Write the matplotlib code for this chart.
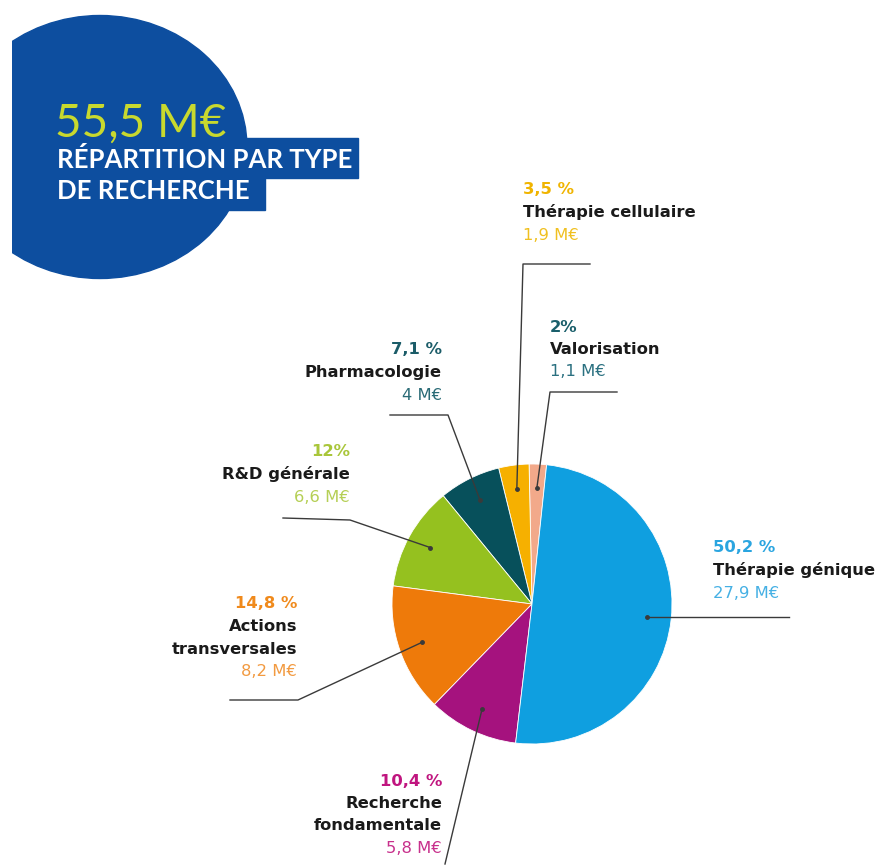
import matplotlib
matplotlib.use("Agg")
import matplotlib.pyplot as plt
from matplotlib.patches import Ellipse, Rectangle
import numpy as np

# data (from the labels)
categories = ["Valorisation", "Thérapie cellulaire", "Pharmacologie", "R&D générale",
              "Actions transversales", "Recherche fondamentale", "Thérapie génique"]
pct_labels = ["2%", "3,5 %", "7,1 %", "12%", "14,8 %", "10,4 %", "50,2 %"]
values = [2.0, 3.5, 7.1, 12.0, 14.8, 10.4, 50.2]
amount_labels = ["1,1 M€", "1,9 M€", "4 M€", "6,6 M€", "8,2 M€", "5,8 M€", "27,9 M€"]
name_lines = [["Valorisation"], ["Thérapie cellulaire"], ["Pharmacologie"], ["R&D générale"],
              ["Actions", "transversales"], ["Recherche", "fondamentale"], ["Thérapie génique"]]
total_label = "55,5 M€"
title_lines = ["RÉPARTITION PAR TYPE", "DE RECHERCHE"]

slice_colors = ["#f2a98a", "#f6b000", "#07505b", "#95c11f", "#ee7a0a", "#a5127e", "#0f9fe0"]
pct_colors = ["#1a5f6b", "#f0b400", "#1b5c68", "#a9c63a", "#f08a1c", "#c0157f", "#2aa5e0"]
amt_colors = ["#2a7080", "#f0c020", "#2a6b76", "#b5cf55", "#f29a40", "#c8308c", "#45b0e4"]

W, H = 882, 865
def Y(y):
    return H - y

# label layout: (x, align, first line y, leader points from label side; None y = dot height)
layout = [
    (550, "left", 327, [(617, 392), (550, 392)]),
    (523, "left", 190, [(590, 264), (523, 264)]),
    (442, "right", 350, [(390, 415), (448, 415)]),
    (350, "right", 452, [(283, 518), (350, 520)]),
    (297, "right", 604, [(230, 700), (298, 700)]),
    (442, "right", 781, [(445, 864)]),
    (713, "left", 548, [(789, None)]),
]

fig = plt.figure(figsize=(W / 100, H / 100), dpi=100)
ax = fig.add_axes([0, 0, 1, 1])

cx, cy, R = 532, Y(604), 140
wedges, _ = ax.pie(values, colors=slice_colors, startangle=84, counterclock=True,
                   center=(cx, cy), radius=R,
                   wedgeprops=dict(linewidth=0.6, edgecolor="white"))

ax.set_xlim(0, W)
ax.set_ylim(0, H)
ax.set_aspect("equal")
ax.axis("off")

# header badge
badge = "#0d4e9f"
clip = Rectangle((12, 0), W, H, transform=ax.transData)
ell = Ellipse((100, Y(147)), 294, 263, color=badge, zorder=1)
ax.add_patch(ell)
ell.set_clip_path(clip)
ax.add_patch(Rectangle((50, Y(178)), 308, 40, color=badge, zorder=1))
ax.add_patch(Rectangle((50, Y(210)), 215, 33, color=badge, zorder=1))
ax.text(55, Y(137), total_label, color="#c8d92e", fontsize=33, family=["Lato", "DejaVu Sans"],
        fontweight="normal", ha="left", va="baseline", zorder=3)
for i, t in enumerate(title_lines):
    ax.text(57, Y(168 + 31 * i), t, color="white", fontsize=18.5, family=["Lato", "DejaVu Sans"],
            fontweight="bold", ha="left", va="baseline", zorder=3)

# labels and leader lines
lead = "#3a3a3a"
step = 22.5
for i, w in enumerate(wedges):
    mid = np.deg2rad((w.theta1 + w.theta2) / 2)
    dx = cx + 0.83 * R * np.cos(mid)
    dy = cy + 0.83 * R * np.sin(mid)
    x, ha, y0, pts = layout[i]
    xs = [p[0] for p in pts] + [dx]
    ys = [dy if p[1] is None else Y(p[1]) for p in pts] + [dy]
    ax.plot(xs, ys, color=lead, lw=1.0, zorder=4)
    ax.plot(dx, dy, "o", color=lead, ms=2.5, zorder=5)

    lines = [(pct_labels[i], pct_colors[i], "bold")]
    lines += [(n, "#1a1a1a", "bold") for n in name_lines[i]]
    lines += [(amount_labels[i], amt_colors[i], "normal")]
    for k, (txt, col, fw) in enumerate(lines):
        ax.text(x, Y(y0 + step * k), txt, color=col, fontsize=11.8, fontweight=fw,
                ha=ha, va="center", family=["DejaVu Sans"], zorder=6)

fig.savefig("out.png", dpi=100)
